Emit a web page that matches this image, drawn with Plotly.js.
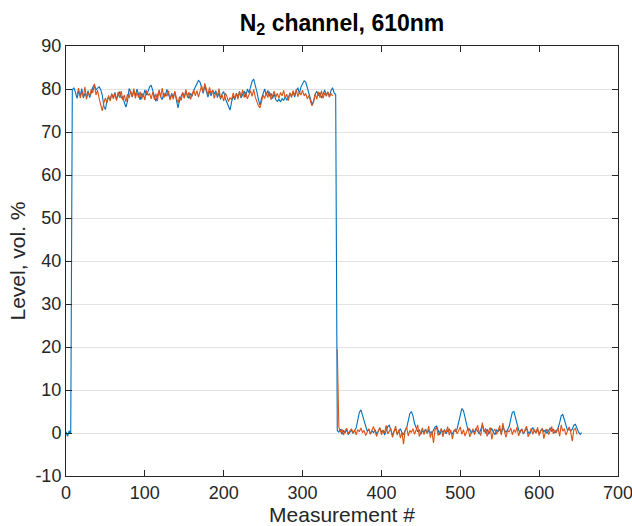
<!DOCTYPE html>
<html>
<head>
<meta charset="utf-8">
<script src="https://cdn.plot.ly/plotly-3.0.1.min.js"></script>
<style>html,body{margin:0;padding:0;background:#fff;}#chart{width:632px;height:526px;}</style>
</head>
<body>
<div id="chart"></div>
<script>
// Measurement index spacing used for both series (every 2nd measurement)
const step = 2;
const blueStart = 0;
const orangeStart = 14;

// Blue series: measurements 0..654
const blueValues = [
  0.3, -0.8, 0.5, -0.2, 79.8,
  // plateau x=10..342
  80.3, 79.2, 77.8, 79.5, 78.4, 80.1, 77.9, 79.0, 78.2, 79.6,
  78.0, 79.1, 80.4, 81.0, 79.8, 80.2, 80.5, 79.9, 78.6, 76.0,
  75.2, 77.4, 78.1, 77.5, 78.8, 78.0, 79.2, 77.6, 78.5, 79.4,
  77.9, 78.3, 76.8, 75.8, 77.2, 80.1, 79.3, 78.1, 79.6, 78.4,
  80.0, 78.7, 77.5, 79.0, 78.2, 79.8, 78.6, 79.4, 80.5, 80.9,
  79.7, 78.0, 77.1, 78.4, 79.6, 78.2, 77.5, 79.1, 78.3, 79.9,
  78.5, 77.7, 79.0, 78.1, 79.3, 77.0, 75.6, 77.3, 78.5, 79.2,
  78.0, 79.5, 78.6, 77.8, 79.0, 78.3, 79.7, 80.4, 81.2, 82.0,
  81.6, 80.3, 79.0, 80.8, 79.2, 78.1, 79.5, 78.4, 79.8, 78.8,
  79.6, 78.0, 79.1, 77.6, 78.9, 79.4, 77.8, 76.9, 76.0, 75.1,
  77.0, 78.4, 77.5, 79.0, 78.2, 79.3, 77.9, 78.6, 79.5, 78.1,
  80.0, 79.1, 80.6, 81.8, 82.3, 81.0, 79.4, 77.6, 76.2, 77.9,
  78.8, 80.0, 78.5, 79.7, 78.3, 79.0, 77.8, 78.9, 77.5, 77.1,
  77.6, 77.0, 77.8, 77.3, 78.2, 77.4, 78.0, 79.1, 78.3, 79.4,
  78.1, 79.6, 80.3, 78.9, 80.5, 81.4, 81.9, 81.6, 80.2, 79.0,
  77.5, 76.4, 77.2, 78.8, 79.5, 78.4, 79.2, 77.9, 78.7, 79.8,
  78.5, 79.3, 78.2, 79.6, 80.3, 79.1, 78.7,
  // low level x=344..654
  0.6, 0.2, 0.9, -0.3, 0.5, 0.1, 0.8, -0.4, 0.3, 0.7,
  -0.1, 0.6, 1.2, 3.0, 4.8, 5.4, 4.2, 2.6, 1.3, 0.4,
  0.9, -0.2, 0.5, 0.1, 0.8, -0.3, 0.4, 1.1, 0.2, 0.7,
  -0.5, 0.6, 1.5, 1.8, 0.3, -0.6, 0.5, 0.9, -0.2, 0.4,
  1.0, 0.1, -0.4, 0.6, 1.2, 2.8, 4.5, 5.0, 4.0, 2.2,
  1.0, 0.3, 0.8, -0.3, 0.5, 0.2, 0.9, -0.1, 0.6, 0.3,
  -0.2, 0.7, 1.4, 1.6, 0.4, -0.4, 0.6, 0.1, 0.8, -0.2,
  0.5, 0.9, 0.2, -0.3, 0.6, 0.4, 1.0, 2.5, 4.6, 5.7,
  5.2, 3.4, 1.6, 0.5, 0.9, -0.1, 0.6, 0.2, 1.1, 0.3,
  -0.2, 0.8, 1.9, 0.6, 0.1, 0.9, -0.3, 0.5, 1.0, 0.2,
  -0.4, 0.7, 0.3, 0.9, -0.1, 1.3, 0.5, 0.1, 0.8, 1.5,
  3.2, 4.8, 5.0, 3.6, 1.8, 0.7, 0.2, 0.9, -0.2, 0.5,
  1.1, 0.3, -0.3, 0.6, 1.3, 0.4, 0.1, 0.8, -0.2, 0.6,
  1.0, 0.3, 0.7, -0.1, 0.5, 1.2, 0.4, 0.9, 0.0, 0.6,
  1.1, 2.4, 4.0, 4.3, 3.1, 1.5, 0.6, 1.2, 0.4, 0.9,
  1.8, 2.0, 1.0, 0.2, -0.3, 0.1
];

// Orange series: measurements 14..648 (gap during the drop)
const orangeValues = [
  // plateau x=14..338
  78.5, 80.2, 77.9, 79.4, 78.1, 80.5, 77.6, 79.2, 78.4, 80.0,
  79.1, 81.2, 78.6, 79.7, 77.8, 76.3, 74.9, 76.8, 77.9, 76.7,
  78.5, 77.2, 79.0, 77.7, 78.9, 77.3, 79.3, 78.0, 79.5, 77.4,
  78.6, 77.0, 78.8, 77.9, 79.6, 78.2, 80.1, 77.8, 79.2, 78.0,
  79.4, 77.6, 78.9, 77.4, 79.7, 78.5, 79.0, 77.7, 79.3, 77.5,
  78.9, 77.2, 79.8, 78.1, 80.2, 77.9, 79.1, 78.3, 79.6, 77.4,
  78.8, 77.6, 79.5, 77.9, 76.8, 78.2, 77.3, 79.1, 77.8, 79.9,
  78.0, 79.3, 77.6, 78.7, 79.8, 78.4, 79.6, 78.1, 79.4, 80.8,
  79.2, 81.3, 80.0, 78.6, 80.4, 78.9, 79.7, 77.8, 79.2, 78.4,
  80.1, 77.9, 78.6, 77.2, 79.0, 78.3, 77.1, 78.0, 77.5, 79.1,
  77.8, 78.9, 77.6, 79.5, 78.2, 79.8, 78.0, 79.3, 77.7, 78.8,
  79.6, 78.3, 79.9, 78.1, 77.0, 76.1, 75.6, 77.4, 78.6, 77.8,
  79.2, 78.0, 79.4, 77.5, 78.7, 79.5, 78.1, 79.0, 77.8, 79.2,
  78.4, 79.7, 77.9, 78.8, 77.3, 79.1, 78.0, 79.6, 78.5, 79.9,
  78.2, 79.3, 78.6, 79.7, 78.4, 79.0, 77.7, 78.5, 77.2, 76.1,
  77.0, 78.9, 77.6, 79.3, 78.0, 79.6, 77.8, 79.1, 78.3, 79.4,
  78.1, 79.0, 78.4,
  null, null, 19.5,
  // low level x=346..648
  1.4, 0.2, 0.9, -0.5, 0.6, 1.1, -0.2, 0.5, 1.0, 0.0,
  0.7, -0.4, 0.8, 0.3, 1.2, 0.1, 0.6, -0.6, 0.4, 1.0,
  -0.3, 0.7, 1.5, 0.2, -0.8, 0.5, 1.3, -0.4, 0.6, 0.1,
  1.8, -0.2, 0.4, 1.1, -1.0, 0.3, 1.6, -0.5, 0.8, -1.2,
  0.2, -2.6, 0.5, 1.4, -0.7, 0.6, 0.1, 1.0, -0.3, 0.7,
  1.9, -0.8, 0.4, 1.2, -0.4, 0.9, 0.0, 1.6, -1.1, 0.5,
  -2.3, 0.8, 1.3, -0.6, 0.3, 1.1, -0.9, 0.6, 0.2, 1.5,
  -0.5, 0.7, -1.4, 0.4, 1.0, -0.2, 0.6, 1.4, -0.3, 0.8,
  -0.7, 0.5, 1.2, -0.9, 0.3, 1.0, -0.4, 0.7, 1.8, 0.1,
  -0.6, 2.4, 0.2, 1.1, -0.8, 0.5, 1.3, -1.5, 0.4, 0.9,
  -0.3, 0.6, 1.7, -0.5, 2.3, 0.3, -1.0, 0.7, 0.2, 1.2,
  -0.4, 0.8, 0.1, 1.4, -0.7, 0.5, 1.0, -0.2, 0.6, 1.6,
  -0.9, 0.4, 1.1, -0.3, 0.8, 0.0, 1.3, -0.6, 0.5, 1.0,
  -1.3, 0.3, 0.9, -0.4, 0.7, 1.5, -0.2, 0.6, 0.1, 1.2,
  -0.8, 1.9, 0.4, 1.0, -0.5, 0.7, 1.4, 0.2, -1.9, 0.8,
  1.1, -0.3
];

const xTicks = [0, 100, 200, 300, 400, 500, 600, 700];
const yTicks = [-10, 0, 10, 20, 30, 40, 50, 60, 70, 80, 90];

const FONT = 'Liberation Sans, Arial, Helvetica, sans-serif';
const ink = '#262626';

const traces = [
  {
    type: 'scatter', mode: 'lines', name: 'blue',
    y: blueValues, x0: blueStart, dx: step,
    line: {color: '#0072BD', width: 1.1},
    connectgaps: false, hoverinfo: 'skip'
  },
  {
    type: 'scatter', mode: 'lines', name: 'orange',
    y: orangeValues, x0: orangeStart, dx: step,
    line: {color: '#D95319', width: 1.1},
    connectgaps: false, hoverinfo: 'skip'
  }
];

const layout = {
  width: 632, height: 526,
  margin: {l: 66, r: 14, t: 46, b: 50},
  paper_bgcolor: '#fff', plot_bgcolor: '#fff',
  showlegend: false,
  font: {family: FONT, color: ink, size: 18},
  title: {
    text: '<b>N<sub>2</sub> channel, 610nm</b>',
    font: {family: FONT, size: 23, color: '#000'},
    x: 0.5, xref: 'paper', xanchor: 'center',
    y: 0.957, yref: 'container', yanchor: 'middle'
  },
  xaxis: {
    range: [0, 700], tickvals: xTicks, ticktext: xTicks.map(String),
    showgrid: false, zeroline: false,
    showline: true, linecolor: ink, linewidth: 1, mirror: 'ticks',
    ticks: 'inside', ticklen: 6, tickcolor: ink, tickwidth: 1,
    ticklabeloverflow: 'allow',
    tickfont: {family: FONT, size: 18, color: ink},
    title: {text: 'Measurement #', font: {family: FONT, size: 21, color: ink}, standoff: 2},
    fixedrange: true
  },
  yaxis: {
    range: [-10, 90], tickvals: yTicks, ticktext: yTicks.map(String),
    showgrid: true, gridcolor: '#e3e3e3', gridwidth: 1, zeroline: false,
    showline: true, linecolor: ink, linewidth: 1, mirror: 'ticks',
    ticks: 'inside', ticklen: 6, tickcolor: ink, tickwidth: 1,
    tickfont: {family: FONT, size: 18, color: ink},
    title: {text: 'Level, vol. %', font: {family: FONT, size: 21, color: ink}, standoff: 4},
    fixedrange: true
  }
};

Plotly.newPlot('chart', traces, layout, {staticPlot: true, displayModeBar: false});
</script>
</body>
</html>
